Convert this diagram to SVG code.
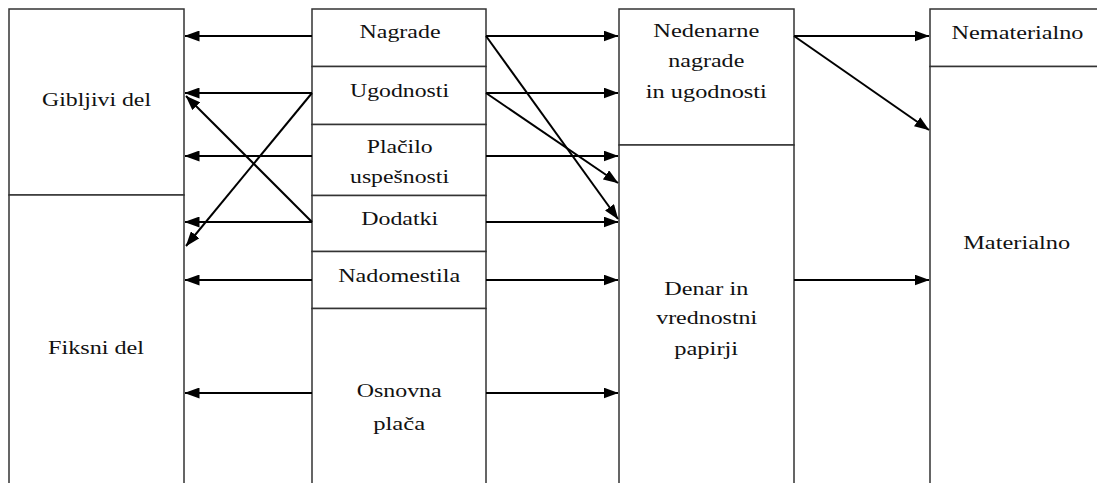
<svg xmlns="http://www.w3.org/2000/svg" width="1097" height="483" viewBox="0 0 1097 483">
  <style>
    .box { fill: #ffffff; stroke: #333333; stroke-width: 1.5; }
    .lbl { font-family: "Liberation Serif", "Times New Roman", serif; font-size: 18px; fill: #111111; text-anchor: middle; }
    .conn line { stroke: #000000; stroke-width: 2; marker-end: url(#ah); }
  </style>
  <defs>
    <marker id="ah" markerUnits="userSpaceOnUse" markerWidth="15" markerHeight="11" viewBox="0 0 15 11" refX="14.5" refY="5.5" orient="auto">
      <path d="M0,0 L15,5.5 L0,11 Z" fill="#000000"/>
    </marker>
  </defs>
  <rect width="1097" height="483" fill="#ffffff"/>

  <g id="gibljivi-del">
    <rect class="box" x="9" y="9" width="175" height="186"/>
    <text class="lbl" x="96.5" y="105.5" textLength="109" lengthAdjust="spacingAndGlyphs">Gibljivi del</text>
  </g>
  <g id="fiksni-del">
    <rect class="box" x="9" y="195" width="175" height="300"/>
    <text class="lbl" x="96" y="354" textLength="96" lengthAdjust="spacingAndGlyphs">Fiksni del</text>
  </g>

  <g id="nagrade">
    <rect class="box" x="312" y="9" width="174" height="57.5"/>
    <text class="lbl" x="400" y="37.5" textLength="81" lengthAdjust="spacingAndGlyphs">Nagrade</text>
  </g>
  <g id="ugodnosti">
    <rect class="box" x="312" y="66.5" width="174" height="58"/>
    <text class="lbl" x="399.5" y="96.5" textLength="99" lengthAdjust="spacingAndGlyphs">Ugodnosti</text>
  </g>
  <g id="placilo-uspesnosti">
    <rect class="box" x="312" y="124.5" width="174" height="71"/>
    <text class="lbl" x="399.7" y="153" textLength="66" lengthAdjust="spacingAndGlyphs">Plačilo</text>
    <text class="lbl" x="399.5" y="182.5" textLength="99" lengthAdjust="spacingAndGlyphs">uspešnosti</text>
  </g>
  <g id="dodatki">
    <rect class="box" x="312" y="195.5" width="174" height="56"/>
    <text class="lbl" x="399.7" y="225.3" textLength="77" lengthAdjust="spacingAndGlyphs">Dodatki</text>
  </g>
  <g id="nadomestila">
    <rect class="box" x="312" y="251.5" width="174" height="57"/>
    <text class="lbl" x="399.2" y="281.7" textLength="122" lengthAdjust="spacingAndGlyphs">Nadomestila</text>
  </g>
  <g id="osnovna-placa">
    <rect class="box" x="312" y="308.5" width="174" height="190"/>
    <text class="lbl" x="399.2" y="396.7" textLength="85" lengthAdjust="spacingAndGlyphs">Osnovna</text>
    <text class="lbl" x="399.2" y="430" textLength="52" lengthAdjust="spacingAndGlyphs">plača</text>
  </g>

  <g id="nedenarne-nagrade">
    <rect class="box" x="619" y="9" width="175" height="136"/>
    <text class="lbl" x="706.3" y="36.7" textLength="106" lengthAdjust="spacingAndGlyphs">Nedenarne</text>
    <text class="lbl" x="706.3" y="66.7" textLength="76" lengthAdjust="spacingAndGlyphs">nagrade</text>
    <text class="lbl" x="706.3" y="98.3" textLength="121" lengthAdjust="spacingAndGlyphs">in ugodnosti</text>
  </g>
  <g id="denar">
    <rect class="box" x="619" y="145" width="175" height="350"/>
    <text class="lbl" x="706.3" y="295" textLength="84" lengthAdjust="spacingAndGlyphs">Denar in</text>
    <text class="lbl" x="706.7" y="324.3" textLength="101" lengthAdjust="spacingAndGlyphs">vrednostni</text>
    <text class="lbl" x="706.2" y="355" textLength="64" lengthAdjust="spacingAndGlyphs">papirji</text>
  </g>

  <g id="nematerialno">
    <rect class="box" x="930" y="9" width="190" height="57.5"/>
    <text class="lbl" x="1017.5" y="38.5" textLength="132" lengthAdjust="spacingAndGlyphs">Nematerialno</text>
  </g>
  <g id="materialno">
    <rect class="box" x="930" y="66.5" width="190" height="430"/>
    <text class="lbl" x="1016.7" y="249.3" textLength="107" lengthAdjust="spacingAndGlyphs">Materialno</text>
  </g>

  <g id="connectors" class="conn">
    <line x1="312" y1="36" x2="185" y2="36"/>
    <line x1="312" y1="93" x2="185" y2="93"/>
    <line x1="312" y1="156" x2="185" y2="156"/>
    <line x1="312" y1="222" x2="185" y2="222"/>
    <line x1="312" y1="280" x2="185" y2="280"/>
    <line x1="312" y1="393" x2="185" y2="393"/>
    <line x1="312" y1="93" x2="186" y2="246"/>
    <line x1="312" y1="222" x2="186" y2="96"/>

    <line x1="486" y1="36" x2="618" y2="36"/>
    <line x1="486" y1="93" x2="618" y2="93"/>
    <line x1="486" y1="156" x2="618" y2="156"/>
    <line x1="486" y1="222" x2="618" y2="222"/>
    <line x1="486" y1="280" x2="618" y2="280"/>
    <line x1="486" y1="393" x2="618" y2="393"/>
    <line x1="486" y1="36" x2="618" y2="219"/>
    <line x1="486" y1="93" x2="618" y2="183"/>

    <line x1="794" y1="36" x2="929" y2="36"/>
    <line x1="794" y1="36" x2="929" y2="130"/>
    <line x1="794" y1="280" x2="929" y2="280"/>
  </g>
</svg>
